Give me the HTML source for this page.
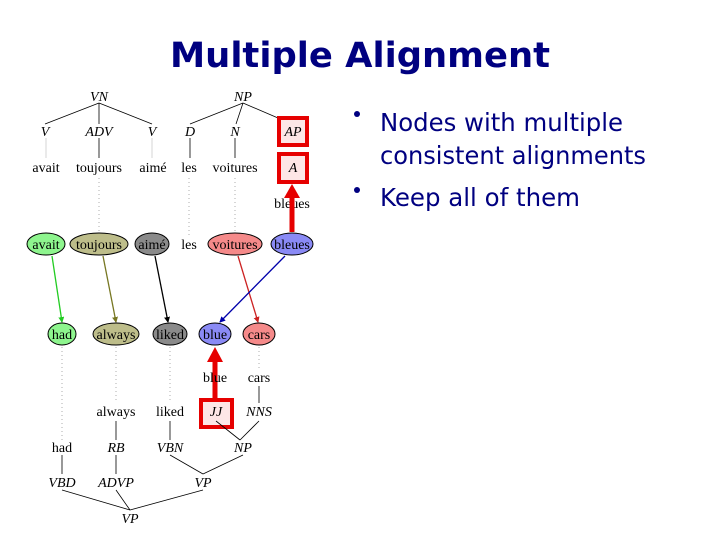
<!DOCTYPE html>
<html><head><meta charset="utf-8"><style>
html,body{margin:0;padding:0;background:#fff;}
svg{display:block;}
.t{font-family:"Liberation Serif",serif;font-size:14px;fill:#000;text-anchor:middle;}
.i{font-family:"Liberation Serif",serif;font-style:italic;font-size:14px;fill:#000;text-anchor:middle;}
.n{stroke:#000;stroke-width:0.8;fill:none;}
.d{stroke:#999;stroke-width:0.8;stroke-dasharray:1,3;fill:none;}
.s{font-family:"DejaVu Sans","Liberation Sans",sans-serif;fill:#000080;}
</style></head><body>
<svg width="720" height="540" viewBox="0 0 720 540" xmlns="http://www.w3.org/2000/svg">
<defs>
<marker id="ah" markerWidth="6" markerHeight="6" refX="5" refY="3" orient="auto" markerUnits="userSpaceOnUse"><path d="M0,0 L6,3 L0,6 z" fill="context-stroke"/></marker>
</defs>
<text class="s" x="360" y="67" text-anchor="middle" font-weight="bold" font-size="35" textLength="380" lengthAdjust="spacingAndGlyphs">Multiple Alignment</text>
<circle cx="357" cy="114" r="3" fill="#000080"/>
<circle cx="357" cy="190" r="3" fill="#000080"/>
<text class="s" x="380" y="131" font-size="25" textLength="243" lengthAdjust="spacingAndGlyphs">Nodes with multiple</text>
<text class="s" x="380" y="164" font-size="25" textLength="266" lengthAdjust="spacingAndGlyphs">consistent alignments</text>
<text class="s" x="380" y="206" font-size="25" textLength="200" lengthAdjust="spacingAndGlyphs">Keep all of them</text>

<!-- top tree -->
<g class="n">
<path d="M99,103 L45,124 M99,103 L99,124 M99,103 L152,124"/>
<path d="M243,103 L190,124 M243,103 L236,124 M243,103 L292,124"/>
<path d="M99,138 L99,158 M190,138 L190,158 M235,138 L235,158"/>
</g>
<path d="M46,138 L46,158 M152,138 L152,158" stroke="#ccc" stroke-width="0.8"/>
<text class="i" x="99" y="101">VN</text>
<text class="i" x="243" y="101">NP</text>
<text class="i" x="45" y="136">V</text>
<text class="i" x="99" y="136">ADV</text>
<text class="i" x="152" y="136">V</text>
<text class="i" x="190" y="136">D</text>
<text class="i" x="235" y="136">N</text>
<rect x="279" y="118" width="28" height="27" fill="#fde6e6" stroke="#e60000" stroke-width="4"/>
<text class="i" x="293" y="136" fill="#555">AP</text>
<rect x="279" y="154" width="28" height="28" fill="#fde6e6" stroke="#e60000" stroke-width="4"/>
<text class="i" x="293" y="172" fill="#555">A</text>
<text class="t" x="46" y="172">avait</text>
<text class="t" x="99" y="172">toujours</text>
<text class="t" x="153" y="172">aimé</text>
<text class="t" x="189" y="172">les</text>
<text class="t" x="235" y="172">voitures</text>
<text class="t" x="292" y="208">bleues</text>
<path class="d" d="M99,178 L99,232 M189,178 L189,236 M235,178 L235,232"/>

<!-- top ellipses -->
<ellipse cx="46" cy="244" rx="19" ry="11" fill="#8ef58e" stroke="#000"/>
<text class="t" x="46" y="249" fill="#007700">avait</text>
<ellipse cx="99" cy="244" rx="29" ry="11" fill="#bdbd8a" stroke="#000"/>
<text class="t" x="99" y="249" fill="#444400">toujours</text>
<ellipse cx="152" cy="244" rx="17" ry="11" fill="#8a8a8a" stroke="#000"/>
<text class="t" x="152" y="249">aimé</text>
<text class="t" x="189" y="249">les</text>
<ellipse cx="235" cy="244" rx="27" ry="11" fill="#f58a8a" stroke="#000"/>
<text class="t" x="235" y="249" fill="#880000">voitures</text>
<ellipse cx="292" cy="244" rx="21" ry="11" fill="#8a8af5" stroke="#000"/>
<text class="t" x="292" y="249" fill="#000088">bleues</text>

<!-- arrows -->
<path d="M52,256 L62,322" stroke="#22cc22" stroke-width="1.3" marker-end="url(#ah)"/>
<path d="M103,256 L116,322" stroke="#777722" stroke-width="1.3" marker-end="url(#ah)"/>
<path d="M155,256 L168,322" stroke="#000" stroke-width="1.3" marker-end="url(#ah)"/>
<path d="M238,256 L258,322" stroke="#cc2222" stroke-width="1.3" marker-end="url(#ah)"/>
<path d="M285,256 L220,322" stroke="#0000aa" stroke-width="1.3" marker-end="url(#ah)"/>
<path d="M292,232 L292,196" stroke="#e60000" stroke-width="5"/>
<path d="M284,198 L292,184 L300,198 z" fill="#e60000"/>

<!-- bottom ellipses -->
<ellipse cx="62" cy="334" rx="14" ry="11" fill="#8ef58e" stroke="#000"/>
<text class="t" x="62" y="339" fill="#007700">had</text>
<ellipse cx="116" cy="334" rx="23" ry="11" fill="#bdbd8a" stroke="#000"/>
<text class="t" x="116" y="339" fill="#444400">always</text>
<ellipse cx="170" cy="334" rx="17" ry="11" fill="#8a8a8a" stroke="#000"/>
<text class="t" x="170" y="339">liked</text>
<ellipse cx="215" cy="334" rx="16" ry="11" fill="#8a8af5" stroke="#000"/>
<text class="t" x="215" y="339" fill="#000088">blue</text>
<ellipse cx="259" cy="334" rx="16" ry="11" fill="#f58a8a" stroke="#000"/>
<text class="t" x="259" y="339" fill="#880000">cars</text>

<path class="d" d="M62,347 L62,440 M116,347 L116,400 M170,347 L170,400 M259,347 L259,368"/>
<path d="M215,398 L215,360" stroke="#e60000" stroke-width="5"/>
<path d="M207,362 L215,347 L223,362 z" fill="#e60000"/>
<text class="t" x="215" y="382">blue</text>
<text class="t" x="259" y="382">cars</text>
<text class="t" x="116" y="416">always</text>
<text class="t" x="170" y="416">liked</text>
<rect x="201" y="400" width="31" height="27" fill="#fde6e6" stroke="#e60000" stroke-width="4"/>
<text class="i" x="216" y="416" fill="#555">JJ</text>
<text class="i" x="259" y="416">NNS</text>
<g class="n">
<path d="M259,386 L259,403 M116,421 L116,440 M170,421 L170,440"/>
<path d="M216,421 L240,440 M259,421 L240,440"/>
<path d="M62,455 L62,474 M116,455 L116,474"/>
<path d="M170,455 L203,474 M243,455 L203,474"/>
<path d="M62,490 L130,510 M116,490 L130,510 M203,490 L130,510"/>
</g>
<text class="t" x="62" y="452">had</text>
<text class="i" x="116" y="452">RB</text>
<text class="i" x="170" y="452">VBN</text>
<text class="i" x="243" y="452">NP</text>
<text class="i" x="62" y="487">VBD</text>
<text class="i" x="116" y="487">ADVP</text>
<text class="i" x="203" y="487">VP</text>
<text class="i" x="130" y="523">VP</text>
</svg>
</body></html>
